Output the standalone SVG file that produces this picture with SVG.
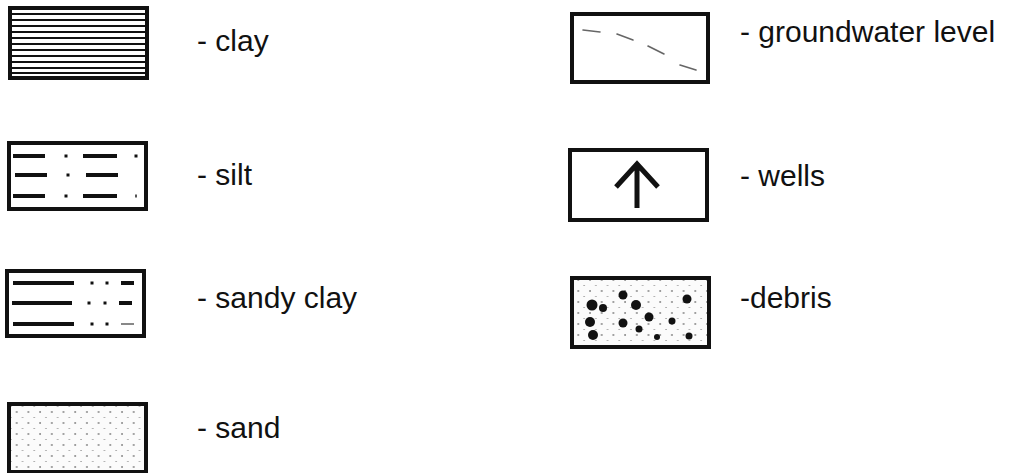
<svg xmlns="http://www.w3.org/2000/svg" width="1013" height="473" viewBox="0 0 1013 473">
<style>
.box{fill:#fff;stroke:#111;stroke-width:4}
.lbl{font-family:"Liberation Sans",Arial,sans-serif;font-size:30px;fill:#111}
.ln{stroke:#111;stroke-width:2}
.dash{stroke:#111;stroke-width:4}
.gw{stroke:#666;stroke-width:1.6;stroke-linecap:round;fill:none}
</style>
<defs>
<pattern id="dots" width="11.7" height="11" patternUnits="userSpaceOnUse" x="3" y="3">
<rect width="11.7" height="11" fill="#fbfbfb"/>
<circle cx="2" cy="2" r="0.8" fill="#333"/>
<circle cx="7.85" cy="7.5" r="0.6" fill="#666"/>
</pattern>
</defs>
<rect width="1013" height="473" fill="#fff"/>
<g id="clay">
<rect class="box" x="10" y="8" width="137" height="70"/>
<g class="ln">
<line x1="12" y1="14" x2="145" y2="14"/>
<line x1="12" y1="20" x2="145" y2="20"/>
<line x1="12" y1="26" x2="145" y2="26"/>
<line x1="12" y1="32" x2="145" y2="32"/>
<line x1="12" y1="38" x2="145" y2="38"/>
<line x1="12" y1="44" x2="145" y2="44"/>
<line x1="12" y1="50" x2="145" y2="50"/>
<line x1="12" y1="56" x2="145" y2="56"/>
<line x1="12" y1="62" x2="145" y2="62"/>
<line x1="12" y1="68" x2="145" y2="68"/>
<line x1="12" y1="73" x2="145" y2="73"/>
</g>
<text class="lbl" x="197" y="51">- clay</text>
</g>
<g id="silt">
<rect class="box" x="9" y="143" width="137" height="66"/>
<g class="dash">
<line x1="13" y1="156" x2="45" y2="156"/>
<line x1="83" y1="156" x2="117" y2="156"/>
<line x1="15" y1="175" x2="47" y2="175"/>
<line x1="86" y1="175" x2="118" y2="175"/>
<line x1="13" y1="196" x2="45" y2="196"/>
<line x1="83" y1="196" x2="117" y2="196"/>
</g>
<g fill="#111">
<rect x="64.5" y="154.5" width="3" height="3"/>
<rect x="134.5" y="154.5" width="3" height="3"/>
<rect x="66.5" y="173.5" width="3" height="3"/>
<rect x="64.5" y="194.5" width="3" height="3"/>
<rect x="135" y="194.5" width="2" height="3" fill="#555"/>
</g>
<text class="lbl" x="197" y="185">- silt</text>
</g>
<g id="sandy-clay">
<rect class="box" x="7" y="271" width="137" height="65"/>
<g class="dash">
<line x1="13" y1="283" x2="74" y2="283"/>
<line x1="121" y1="283" x2="134" y2="283"/>
<line x1="12" y1="303" x2="72" y2="303"/>
<line x1="119" y1="303" x2="132" y2="303"/>
<line x1="13" y1="324" x2="74" y2="324"/>
</g>
<line x1="121" y1="324" x2="134" y2="324" stroke="#888" stroke-width="2"/>
<g fill="#111">
<rect x="90.5" y="281.5" width="3" height="3"/>
<rect x="105.5" y="281.5" width="3" height="3"/>
<rect x="87.5" y="301.5" width="3" height="3"/>
<rect x="103.5" y="301.5" width="3" height="3"/>
<rect x="90.5" y="322.5" width="3" height="3"/>
<rect x="105.5" y="322.5" width="3" height="3"/>
</g>
<text class="lbl" x="197" y="308">- sandy clay</text>
</g>
<g id="sand">
<rect class="box" x="9" y="404" width="137" height="68" style="fill:url(#dots)"/>
<text class="lbl" x="197" y="438">- sand</text>
</g>
<g id="groundwater">
<rect class="box" x="572" y="14" width="136" height="68"/>
<path class="gw" d="M583 30 L600 32 M617 34 L633 40 M648 46 L664 54 M680 65 L696 70"/>
<text class="lbl" x="740" y="42">- groundwater level</text>
</g>
<g id="wells">
<rect class="box" x="570" y="150" width="137" height="70"/>
<path d="M637 208 V164 M616 187 L637 164 L658 187" fill="none" stroke="#111" stroke-width="5"/>
<text class="lbl" x="740" y="186">- wells</text>
</g>
<g id="debris">
<rect class="box" x="572" y="278" width="137" height="69" style="fill:url(#dots)"/>
<g fill="#111">
<circle cx="592" cy="305" r="5.5"/>
<circle cx="603" cy="308" r="4"/>
<circle cx="623" cy="295" r="4.5"/>
<circle cx="636" cy="305" r="5"/>
<circle cx="590" cy="322" r="5"/>
<circle cx="623" cy="323" r="4.5"/>
<circle cx="649" cy="317" r="4.5"/>
<circle cx="639" cy="329" r="3.5"/>
<circle cx="672" cy="321" r="3.5"/>
<circle cx="687" cy="299" r="4.5"/>
<circle cx="593" cy="335" r="5"/>
<circle cx="657" cy="337" r="3"/>
<circle cx="689" cy="336" r="3.5"/>
</g>
<text class="lbl" x="740" y="308">-debris</text>
</g>
<g id="connectors"/>
</svg>
